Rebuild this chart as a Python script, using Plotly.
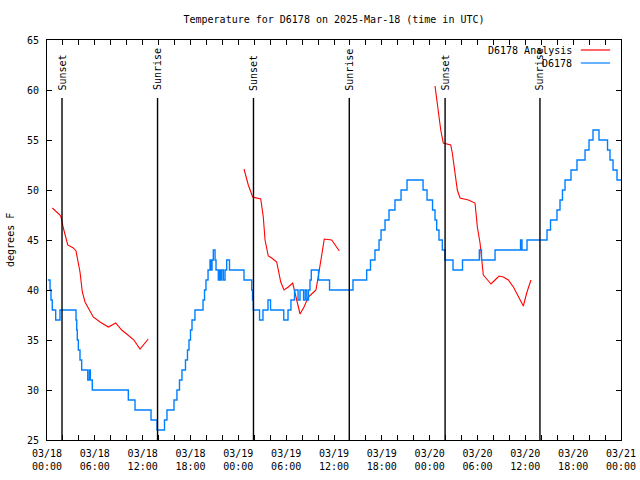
import plotly.graph_objects as go
import pandas as pd

BASE = pd.Timestamp("2025-03-18 00:00")

# Observed station temperature (hours after start, degrees F) - change points
obs_hours = [0.10, 0.38, 0.50, 0.66, 1.09, 1.63, 3.64, 3.73, 3.80, 3.93, 4.14, 4.35, 5.11, 5.31,
             5.43, 5.68, 10.20, 11.04, 13.05, 13.80, 14.74, 15.05, 15.93, 16.30, 16.62, 16.93,
             17.37, 17.62, 17.81, 18.00, 18.19, 18.56, 19.57, 19.76, 19.94, 20.20, 20.45, 20.57,
             20.70, 20.86, 21.08, 21.20, 21.49, 21.64, 21.76, 21.91, 22.12, 22.33, 22.54, 22.89,
             24.71, 25.68, 25.78, 25.88, 26.66, 27.09, 27.72, 28.04, 29.70, 30.23, 30.60, 31.05,
             31.49, 31.74, 32.18, 32.39, 32.59, 32.80, 32.99, 33.15, 34.06, 35.44, 38.38, 40.10,
             40.58, 41.14, 41.65, 41.90, 42.40, 42.90, 43.65, 44.41, 45.16, 47.17, 47.67, 48.36,
             48.67, 48.88, 49.17, 49.59, 49.92, 50.93, 52.12, 54.23, 54.50, 56.20, 59.40, 59.58,
             60.21, 62.72, 63.16, 63.97, 64.35, 64.66, 64.98, 65.73, 66.48, 67.49, 67.99, 68.49,
             69.24, 70.31, 70.62, 71.00, 71.50, 72.00]
obs_temps = [41, 40, 39, 38, 37, 38, 37, 36, 35, 34, 33, 32, 31, 32,
             31, 30, 29, 28, 27, 26, 27, 28, 29, 30, 31, 32,
             33, 34, 35, 36, 37, 38, 39, 40, 41, 42, 43, 42,
             43, 44, 43, 42, 41, 42, 41, 42, 41, 42, 43, 42,
             41, 40, 39, 38, 37, 38, 39, 38, 37, 38, 39, 40,
             39, 40, 39, 40, 39, 40, 41, 42, 41, 40, 41, 42,
             43, 44, 45, 46, 47, 48, 49, 50, 51, 50, 49, 48,
             47, 46, 45, 44, 43, 42, 43, 44, 43, 44, 45, 44,
             45, 46, 47, 48, 49, 50, 51, 52, 53, 54, 55, 56,
             55, 54, 53, 52, 51, 51]

# Analysis temperature, three runs (hours after start, degrees F)
ana1_hours = [0.67, 1.63, 1.76, 2.05, 2.60, 3.30, 3.64, 4.14, 4.43, 4.77, 5.18, 5.80, 6.65,
              7.70, 8.62, 9.37, 10.00, 10.90, 11.67, 12.30, 12.70]
ana1_temps = [48.2, 47.5, 47.3, 46.2, 44.5, 44.2, 43.9, 41.8, 39.8, 38.8, 38.2, 37.3, 36.8,
              36.3, 36.7, 36.0, 35.6, 35.0, 34.1, 34.7, 35.1]
ana2_hours = [24.71, 25.25, 25.80, 26.81, 27.13, 27.35, 27.76, 28.19, 28.81, 29.32, 29.73, 30.27,
              30.82, 31.23, 31.74, 32.24, 32.78, 33.33, 33.74, 34.16, 34.78, 35.71, 36.13, 36.67]
ana2_temps = [52.1, 50.5, 49.3, 49.1, 47.3, 45.0, 43.4, 43.2, 42.8, 40.8, 40.0, 40.3,
              40.7, 39.3, 37.6, 38.3, 39.3, 39.7, 40.0, 42.0, 45.1, 45.0, 44.5, 43.9]
ana3_hours = [48.67, 49.08, 49.39, 49.71, 50.64, 50.84, 51.18, 51.47, 51.81, 52.85, 53.69, 53.98,
              54.32, 54.60, 54.73, 55.16, 55.69, 56.20, 56.70, 57.24, 57.87, 58.50, 59.00, 59.75,
              60.17, 60.71]
ana3_temps = [60.4, 58.0, 56.0, 54.7, 54.5, 53.7, 51.7, 50.0, 49.2, 49.0, 48.7, 46.3,
              44.7, 42.3, 41.5, 41.1, 40.6, 41.0, 41.4, 41.3, 41.0, 40.3, 39.5, 38.4,
              39.7, 41.0]

event_times = ["2025-03-18 01:53", "2025-03-18 13:52", "2025-03-19 01:54",
               "2025-03-19 13:55", "2025-03-20 01:56", "2025-03-20 13:50"]
event_labels = ["Sunset", "Sunrise", "Sunset", "Sunrise", "Sunset", "Sunrise"]

tick_hours = list(range(0, 73, 6))
y_ticks = [25, 30, 35, 40, 45, 50, 55, 60, 65]

FONT = "DejaVu Sans Mono"


def to_time(hours):
    return [BASE + pd.Timedelta(hours=h) for h in hours]


ana_x = to_time(ana1_hours) + [None] + to_time(ana2_hours) + [None] + to_time(ana3_hours)
ana_y = ana1_temps + [None] + ana2_temps + [None] + ana3_temps

fig = go.Figure()
fig.add_trace(go.Scatter(x=ana_x, y=ana_y, mode="lines", name="D6178 Analysis",
                         line=dict(color="#ff0000", width=1.1), connectgaps=False))
fig.add_trace(go.Scatter(x=to_time(obs_hours), y=obs_temps, mode="lines", name="D6178",
                         line=dict(color="#0080ff", width=1.4, shape="hv")))

for t, lab in zip(event_times, event_labels):
    fig.add_shape(type="line", xref="x", yref="y", x0=t, x1=t, y0=25, y1=59.2,
                  line=dict(color="black", width=1.4))
    fig.add_annotation(x=t, y=59.75, xref="x", yref="y", text=lab, textangle=-90,
                       showarrow=False, xanchor="center", yanchor="bottom",
                       font=dict(family=FONT, size=10, color="black"))

# legend (gnuplot style: text then sample on the right)
legend_rows = [("D6178 Analysis", "#ff0000", 0.975), ("D6178", "#0080ff", 0.9425)]
for name, col, yy in legend_rows:
    fig.add_annotation(x=0.9185, y=yy, xref="paper", yref="paper", text=name,
                       showarrow=False, xanchor="right", yanchor="middle",
                       font=dict(family=FONT, size=10, color="black"))
    fig.add_shape(type="line", xref="paper", yref="paper", x0=0.930, x1=0.981,
                  y0=yy, y1=yy, line=dict(color=col, width=1.2))

fig.add_annotation(x=-0.0645, y=0.5, xref="paper", yref="paper", text="degrees F",
                   textangle=-90, showarrow=False, xanchor="center", yanchor="middle",
                   font=dict(family=FONT, size=10, color="black"))

tick_vals = to_time(tick_hours)
tick_text = [t.strftime("%m/%d<br>%H:%M") for t in tick_vals]

fig.update_layout(
    width=640, height=480,
    margin=dict(l=47, r=19, t=40, b=40, autoexpand=False),
    paper_bgcolor="white", plot_bgcolor="white",
    showlegend=False,
    hovermode=False,
    title=dict(text="Temperature for D6178 on 2025-Mar-18 (time in UTC)",
               x=0.5, xref="paper", xanchor="center",
               y=1 - 19 / 480, yref="container", yanchor="middle",
               font=dict(family=FONT, size=10, color="black")),
    font=dict(family=FONT, size=10, color="black"),
)
fig.update_xaxes(range=[BASE, BASE + pd.Timedelta(hours=72)],
                 tickmode="array", tickvals=tick_vals, ticktext=tick_text,
                 ticks="inside", ticklen=5, tickcolor="black", tickwidth=1,
                 ticklabelstandoff=4,
                 minor=dict(dtick=2 * 3600 * 1000, tick0=BASE, ticks="inside", ticklen=5,
                            tickcolor="black", showgrid=False),
                 showline=True, linecolor="black", linewidth=1, mirror="allticks",
                 showgrid=False, zeroline=False,
                 tickfont=dict(family=FONT, size=10, color="black"))
fig.update_yaxes(range=[25, 65], tickmode="array", tickvals=y_ticks,
                 ticks="inside", ticklen=5, tickcolor="black", tickwidth=1,
                 ticklabelstandoff=5,
                 showline=True, linecolor="black", linewidth=1, mirror="allticks",
                 showgrid=False, zeroline=False,
                 tickfont=dict(family=FONT, size=10, color="black"))

fig.write_html("out.html", config={"displayModeBar": False},
               post_script="document.body.style.margin='0';")
